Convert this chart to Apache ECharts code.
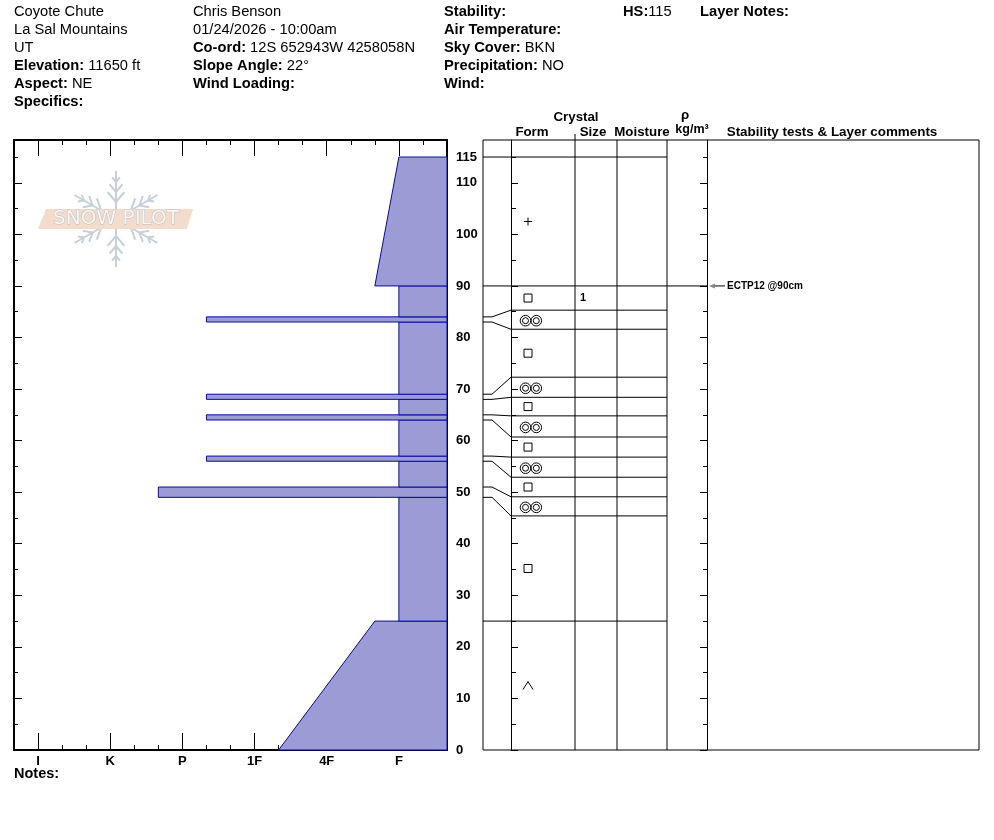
<!DOCTYPE html>
<html>
<head>
<meta charset="utf-8">
<title>Coyote Chute - snow profile</title>
<script src="https://cdn.jsdelivr.net/npm/echarts@6/dist/echarts.min.js"></script>
<style>
  html, body { margin: 0; padding: 0; background: #fff; }
  #profile { width: 994px; height: 840px; }
</style>
</head>
<body>
<div id="profile"></div>
<script>
// hand hardness, one step per third of a class (F- = 1 ... I+ = 18)
var hardnessSteps = ['F-','F','F+','4F-','4F','4F+','1F-','1F','1F+','P-','P','P+','K-','K','K+','I-','I','I+'];
var hardnessTicks = [2, 5, 8, 11, 14, 17];

// layers from the ground up, cm
var layerBottom = [0, 25, 49, 51, 56, 57, 64, 65, 68, 69, 83, 84, 90];
var layerTop    = [25, 49, 51, 56, 57, 64, 65, 68, 69, 83, 84, 90, 115];
var hardBottom  = ['1F-','F','P+','F','P-','F','P-','F','P-','F','P-','F','F+'];
var hardTop     = ['F+','F','P+','F','P-','F','P-','F','P-','F','P-','F','F'];
var grainForm   = ['DH','FC','MFcr','FC','MFcr','FC','MFcr','FC','MFcr','FC','MFcr','FC','PP'];
var grainSize   = ['','','','','','','','','','','','1',''];
// height of each layer's top line in the table (thin layers get spread out)
var tableTop    = [25, 45.4, 49.1, 52.9, 56.8, 60.7, 64.8, 68.4, 72.3, 81.6, 85.3, 90, 115];

// stability tests
var testDepth = [90];
var testText  = ['ECTP12 @90cm'];

var depthLabels = [0, 10, 20, 30, 40, 50, 60, 70, 80, 90, 100, 110, 115];
var depthMajor = [0, 10, 20, 30, 40, 50, 60, 70, 80, 90, 100, 110];
var depthMinor = [5, 15, 25, 35, 45, 55, 65, 75, 85, 95, 105, 115];

var yMax = 118.3;
var FONT = '"Liberation Sans", Arial, sans-serif';
var HSIZE = 14.7;
var fill = '#9b9bd6', edge = '#0a0a9c';

function hv(h) { return hardnessSteps.indexOf(h) + 1; }

var minorHard = [];
for (var k = 1; k < 18; k++) if (hardnessTicks.indexOf(k) < 0) minorHard.push(k);

function xAx(pos, vals, len, line, labels) {
  return {
    type: 'value', gridIndex: 0, position: pos, min: 0, max: 18, inverse: true,
    axisLine: { show: line, onZero: false, lineStyle: { color: '#000', width: 2 } },
    axisTick: { show: true, inside: true, length: len, customValues: vals, lineStyle: { color: '#000', width: 1 } },
    axisLabel: labels ? {
      show: true, customValues: hardnessTicks, margin: 5, color: '#000',
      fontFamily: FONT, fontWeight: 'bold', fontSize: 13,
      formatter: function (v) { return hardnessSteps[v - 1]; }
    } : { show: false },
    splitLine: { show: false }
  };
}

function yAx(grid, pos, vals, len, line, lw, labels) {
  return {
    type: 'value', gridIndex: grid, position: pos, min: 0, max: yMax,
    axisLine: { show: line, onZero: false, lineStyle: { color: '#000', width: lw } },
    axisTick: { show: true, inside: true, length: len, customValues: vals, lineStyle: { color: '#000', width: 1 } },
    axisLabel: labels ? {
      show: true, customValues: depthLabels, margin: 9, color: '#000',
      fontFamily: FONT, fontWeight: 'bold', fontSize: 13
    } : { show: false },
    splitLine: { show: false }
  };
}

// grain form symbols, drawn around the row centre c
function formSymbol(code, c) {
  var s = { stroke: '#000', lineWidth: 1, fill: null };
  if (code === 'PP') {
    return { type: 'group', children: [
      { type: 'line', shape: { x1: c[0] - 4, y1: c[1], x2: c[0] + 4, y2: c[1] }, style: s },
      { type: 'line', shape: { x1: c[0], y1: c[1] - 4, x2: c[0], y2: c[1] + 4 }, style: s }
    ] };
  }
  if (code === 'FC') {
    return { type: 'rect', shape: { x: c[0] - 4, y: c[1] - 4, width: 8, height: 8 }, style: s };
  }
  if (code === 'DH') {
    return { type: 'polyline', shape: { points: [[c[0] - 5, c[1] + 4], [c[0], c[1] - 4], [c[0] + 5, c[1] + 4]] }, style: s };
  }
  // melt-freeze crust
  return { type: 'group', children: [
    { type: 'circle', shape: { cx: c[0] - 2.5, cy: c[1] + 1, r: 5.3 }, style: s },
    { type: 'circle', shape: { cx: c[0] - 2.5, cy: c[1] + 1, r: 3 }, style: s },
    { type: 'circle', shape: { cx: c[0] + 8.3, cy: c[1] + 1, r: 5.3 }, style: s },
    { type: 'circle', shape: { cx: c[0] + 8.3, cy: c[1] + 1, r: 3 }, style: s }
  ] };
}

// header block
function hdr(x, y, text) {
  return {
    type: 'text', x: x, y: y, silent: true,
    style: {
      text: text, fill: '#000', fontFamily: FONT, fontSize: HSIZE, verticalAlign: 'middle',
      rich: { b: { fontFamily: FONT, fontSize: HSIZE, fontWeight: 'bold', fill: '#000' } }
    }
  };
}
function bold(x, y, text, size, align) {
  return {
    type: 'text', x: x, y: y, silent: true,
    style: { text: text, fill: '#000', fontFamily: FONT, fontSize: size, fontWeight: 'bold',
      align: align || 'left', verticalAlign: 'middle' }
  };
}

// SnowPilot logo
function logo() {
  var cx = 116, cy = 219, kids = [];
  var st = { stroke: '#c6d0d8', lineWidth: 2 };
  for (var a = 0; a < 6; a++) {
    var ang = (90 + a * 60) * Math.PI / 180;
    var dx = Math.cos(ang), dy = -Math.sin(ang);
    kids.push({ type: 'line', shape: { x1: cx, y1: cy, x2: cx + dx * 48, y2: cy + dy * 48 }, style: st });
    [[17, 13], [27, 10], [37, 6]].forEach(function (b) {
      var px = cx + dx * b[0], py = cy + dy * b[0];
      [-1, 1].forEach(function (sg) {
        var ba = ang + sg * 40 * Math.PI / 180;
        kids.push({ type: 'line', shape: { x1: px, y1: py, x2: px + Math.cos(ba) * b[1], y2: py - Math.sin(ba) * b[1] }, style: st });
      });
    });
  }
  kids.push({ type: 'polygon', shape: { points: [[46, 209], [193, 209], [187, 229], [38, 229]] }, style: { fill: '#f3dccb' } });
  kids.push({ type: 'text', x: 116, y: 219,
    style: { text: 'SNOW PILOT', fontFamily: '"DejaVu Sans", sans-serif', fontSize: 20,
      fill: '#f6f6f6', stroke: '#bdbdbd', lineWidth: 1, align: 'center', verticalAlign: 'middle' } });
  return { type: 'group', silent: true, children: kids };
}

var chart = echarts.init(document.getElementById('profile'));

var option = {
  animation: false,
  backgroundColor: '#fff',
  grid: [
    { left: 14, top: 140, width: 433, height: 610, outerBoundsMode: 'none' },
    { left: 511, top: 140, width: 196, height: 610, outerBoundsMode: 'none' }
  ],
  xAxis: [
    xAx('bottom', hardnessTicks, 17, true, true),
    xAx('bottom', minorHard, 5, false, false),
    xAx('top', hardnessTicks, 16, true, false),
    xAx('top', minorHard, 5, false, false),
    { type: 'value', gridIndex: 1, min: 0, max: 196, show: false }
  ],
  yAxis: [
    yAx(0, 'left', depthMajor, 8, true, 2, false),
    yAx(0, 'left', depthMinor, 4, false, 2, false),
    yAx(0, 'right', depthMajor, 7, true, 2, true),
    yAx(0, 'right', depthMinor, 4, false, 2, false),
    yAx(1, 'left', depthMajor, 7, true, 1, false),
    yAx(1, 'left', depthMinor, 5, false, 1, false),
    yAx(1, 'right', depthMajor, 7, true, 1, false),
    yAx(1, 'right', depthMinor, 4, false, 1, false)
  ],
  graphic: [
    hdr(14, 12, 'Coyote Chute'),
    hdr(14, 30, 'La Sal Mountains'),
    hdr(14, 48, 'UT'),
    hdr(14, 66, '{b|Elevation:} 11650 ft'),
    hdr(14, 84, '{b|Aspect:} NE'),
    hdr(14, 102, '{b|Specifics:}'),
    hdr(193, 12, 'Chris Benson'),
    hdr(193, 30, '01/24/2026 - 10:00am'),
    hdr(193, 48, '{b|Co-ord:} 12S 652943W 4258058N'),
    hdr(193, 66, '{b|Slope Angle:} 22°'),
    hdr(193, 84, '{b|Wind Loading:}'),
    hdr(444, 12, '{b|Stability:}'),
    hdr(444, 30, '{b|Air Temperature:}'),
    hdr(444, 48, '{b|Sky Cover:} BKN'),
    hdr(444, 66, '{b|Precipitation:} NO'),
    hdr(444, 84, '{b|Wind:}'),
    hdr(623, 12, '{b|HS:}115'),
    hdr(700, 12, '{b|Layer Notes:}'),
    bold(576, 117, 'Crystal', 13.3, 'center'),
    bold(532, 132, 'Form', 13.3, 'center'),
    bold(593, 132, 'Size', 13.3, 'center'),
    bold(642, 132, 'Moisture', 13.3, 'center'),
    bold(685, 115, 'ρ', 13.3, 'center'),
    bold(692, 130, 'kg/m³', 12.5, 'center'),
    bold(832, 132, 'Stability tests & Layer comments', 13.4, 'center'),
    bold(14, 774, 'Notes:', 14.5, 'left'),
    logo()
  ],
  series: [
    {
      // hardness profile
      type: 'custom', xAxisIndex: 0, yAxisIndex: 0,
      data: layerBottom.map(function (b, i) { return [b, layerTop[i], hv(hardBottom[i]), hv(hardTop[i])]; }),
      encode: { x: [2, 3], y: [0, 1] },
      renderItem: function (params, api) {
        var b = api.value(0), t = api.value(1);
        return {
          type: 'polygon',
          shape: { points: [api.coord([0, b]), api.coord([api.value(2), b]), api.coord([api.value(3), t]), api.coord([0, t])] },
          style: { fill: fill, stroke: edge, lineWidth: 1 }
        };
      }
    },
    {
      // table frame
      type: 'custom', xAxisIndex: 4, yAxisIndex: 4, clip: false,
      data: [[0, 0]],
      renderItem: function (params, api) {
        var s = { stroke: '#000', lineWidth: 1, fill: null };
        var tl = api.coord([-28, yMax]), br = api.coord([468, 0]);
        var kids = [{ type: 'rect', shape: { x: tl[0], y: tl[1], width: br[0] - tl[0], height: br[1] - tl[1] }, style: s }];
        [64, 106, 156].forEach(function (cx) {
          var a = api.coord([cx, yMax]), b = api.coord([cx, 0]);
          kids.push({ type: 'line', shape: { x1: a[0], y1: a[1] - (cx === 64 ? 6 : 0), x2: b[0], y2: b[1] }, style: s });
        });
        return { type: 'group', children: kids };
      }
    },
    {
      // table rows, connectors, grain form and size
      type: 'custom', xAxisIndex: 4, yAxisIndex: 4, clip: false,
      data: layerTop.map(function (t, i) { return [0, t]; }),
      renderItem: function (params, api) {
        var i = params.dataIndex;
        var top = layerTop[i], dTop = tableTop[i], dBot = i ? tableTop[i - 1] : 0;
        var right = testDepth.indexOf(top) >= 0 ? 196 : 156;
        var kids = [{
          type: 'polyline',
          shape: { points: [api.coord([-28, top]), api.coord([-19, top]), api.coord([0, dTop]), api.coord([right, dTop])] },
          style: { stroke: '#000', lineWidth: 1, fill: null }
        }];
        var c = api.coord([17, (dTop + dBot) / 2]);
        kids.push(formSymbol(grainForm[i], c));
        if (grainSize[i]) {
          kids.push({ type: 'text', x: api.coord([69, 0])[0], y: c[1],
            style: { text: grainSize[i], fill: '#000', fontFamily: FONT, fontSize: 11, fontWeight: 'bold', verticalAlign: 'middle' } });
        }
        return { type: 'group', children: kids };
      }
    },
    {
      // stability test arrows
      type: 'custom', xAxisIndex: 4, yAxisIndex: 4, clip: false,
      data: testDepth.map(function (d) { return [200, d]; }),
      renderItem: function (params, api) {
        var d = api.value(1);
        var p0 = api.coord([198, d]), p1 = api.coord([214, d]);
        return { type: 'group', children: [
          { type: 'line', shape: { x1: p0[0] + 4, y1: p0[1], x2: p1[0], y2: p1[1] }, style: { stroke: '#000', lineWidth: 1 } },
          { type: 'polygon', shape: { points: [[p0[0], p0[1]], [p0[0] + 6, p0[1] - 2.5], [p0[0] + 6, p0[1] + 2.5]] }, style: { fill: '#888' } },
          { type: 'text', x: p1[0] + 2, y: p1[1],
            style: { text: testText[params.dataIndex], fill: '#000', fontFamily: FONT, fontSize: 10, fontWeight: 'bold', verticalAlign: 'middle' } }
        ] };
      }
    }
  ]
};

chart.setOption(option);
window.addEventListener('resize', function () { chart.resize(); });
</script>
</body>
</html>
